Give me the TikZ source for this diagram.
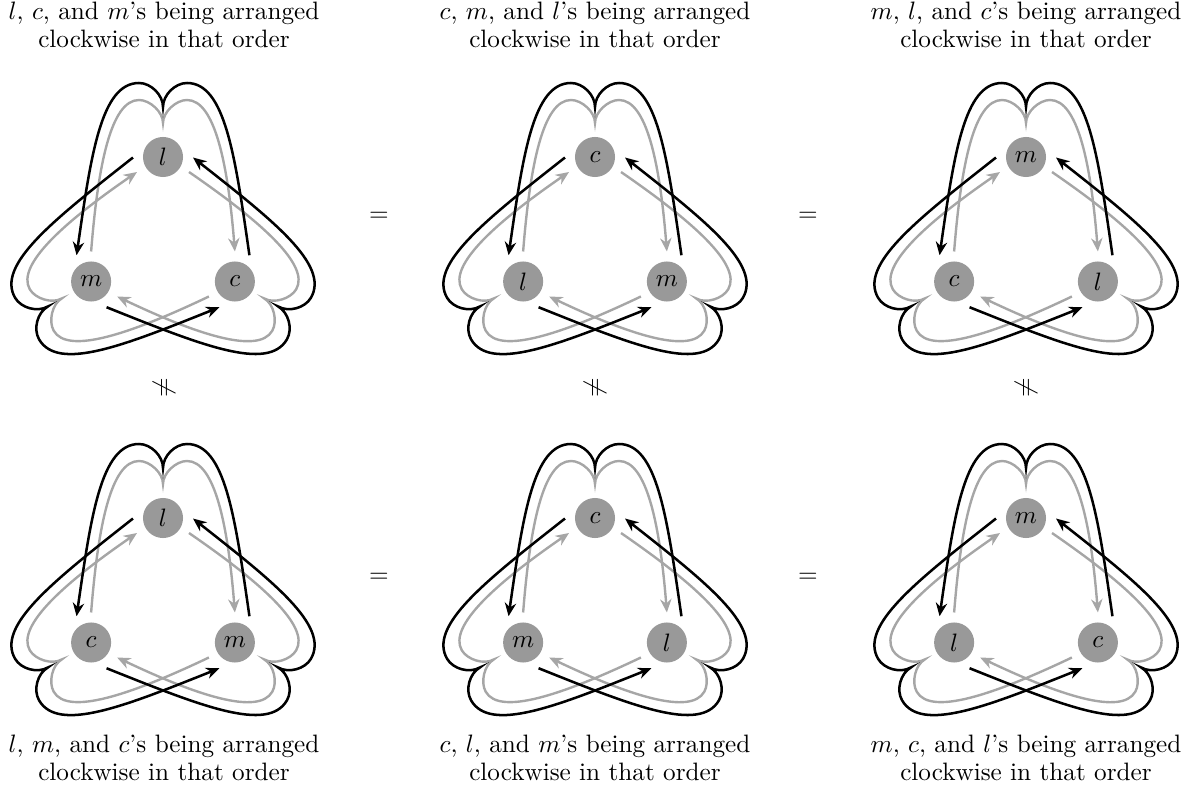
\documentclass[tikz,border=0pt]{standalone}
\usetikzlibrary{arrows.meta,calc}
\tikzset{
  vtx/.style={circle, fill=black!40, draw=none, minimum size=15.9pt, inner sep=0pt, outer sep=3.97pt},
  blk/.style={line width=1pt, draw=black, -{Stealth[length=5.3pt,width=4.5pt]}},
  gry/.style={line width=0.95pt, draw=black!35, -{Stealth[length=5.3pt,width=4.5pt]}},
  lbl/.style={anchor=base, inner sep=0pt},
  rel/.style={inner sep=0pt},
}
% #1 centre, #2 rotation, #3 node A, #4 black start angle, #5 node B, #6 black end angle, #7 gray angle
\newcommand\mylobegray[7]{%
  \begin{scope}[shift={(#1)}, rotate=#2]
    \draw[gry] (#5.#7) .. controls (-65,75) and (-52,140) .. (-24,140)
      .. controls (-13,140) and (0,128) .. (0,117)
      .. controls (0,128) and (13,140) .. (24,140)
      .. controls (52,140) and (65,75) .. (#3.#7);
  \end{scope}}
\newcommand\mylobeblack[7]{%
  \begin{scope}[shift={(#1)}, rotate=#2]
    \draw[blk] (#3.#4) .. controls (72,85) and (62,157) .. (24,157)
      .. controls (12,157) and (0,145) .. (0,133)
      .. controls (0,145) and (-12,157) .. (-24,157)
      .. controls (-62,157) and (-72,85) .. (#5.#6);
  \end{scope}}
% #1 prefix, #2 x, #3 y, #4 top, #5 left, #6 right
\newcommand\mytri[6]{%
  \coordinate (#1o) at (#2,#3);
  \node[vtx] (#1T) at ($(#1o)+(90:83)$) {$#4$};
  \node[vtx] (#1L) at ($(#1o)+(210:83)$) {$#5$};
  \node[vtx] (#1R) at ($(#1o)+(330:83)$) {$#6$};
  \mylobegray{#1o}{0}{#1R}{61}{#1L}{119}{90}
  \mylobegray{#1o}{120}{#1T}{181}{#1R}{239}{210}
  \mylobegray{#1o}{240}{#1L}{301}{#1T}{359}{330}
  \mylobeblack{#1o}{0}{#1R}{61}{#1L}{119}{90}
  \mylobeblack{#1o}{120}{#1T}{181}{#1R}{239}{210}
  \mylobeblack{#1o}{240}{#1L}{301}{#1T}{359}{330}
}
\begin{document}
\begin{tikzpicture}[x=0.397pt,y=0.397pt]
  \useasboundingbox (0,0) rectangle (1189,795);
  % top row
  \mytri{a}{163}{555}{l}{m}{c}
  \mytri{b}{595}{555}{c}{l}{m}
  \mytri{d}{1026}{555}{m}{c}{l}
  % bottom row
  \mytri{e}{163}{194}{l}{c}{m}
  \mytri{f}{595}{194}{c}{m}{l}
  \mytri{g}{1026}{194}{m}{l}{c}
  % labels
  \node[lbl] (ta1) at (164,775) {$l$, $c$, and $m$'s being arranged};
  \node[lbl] (ta2) at (164,747) {clockwise in that order};
  \node[lbl] (tb1) at (595,775) {$c$, $m$, and $l$'s being arranged};
  \node[lbl] (tb2) at (595,747) {clockwise in that order};
  \node[lbl] (td1) at (1026,775) {$m$, $l$, and $c$'s being arranged};
  \node[lbl] (td2) at (1026,747) {clockwise in that order};
  \node[lbl] (te1) at (164,43) {$l$, $m$, and $c$'s being arranged};
  \node[lbl] (te2) at (164,15) {clockwise in that order};
  \node[lbl] (tf1) at (595,43) {$c$, $l$, and $m$'s being arranged};
  \node[lbl] (tf2) at (595,15) {clockwise in that order};
  \node[lbl] (tg1) at (1026,43) {$m$, $c$, and $l$'s being arranged};
  \node[lbl] (tg2) at (1026,15) {clockwise in that order};
  % relations
  \node[rel] (eq1) at (379,578) {$=$};
  \node[rel] (eq2) at (808,578) {$=$};
  \node[rel] (eq3) at (379,217) {$=$};
  \node[rel] (eq4) at (808,217) {$=$};
  \node[rel, rotate=90] (ne1) at (164,407) {$\neq$};
  \node[rel, rotate=90] (ne2) at (595,407) {$\neq$};
  \node[rel, rotate=90] (ne3) at (1026,407) {$\neq$};
\end{tikzpicture}
\end{document}
